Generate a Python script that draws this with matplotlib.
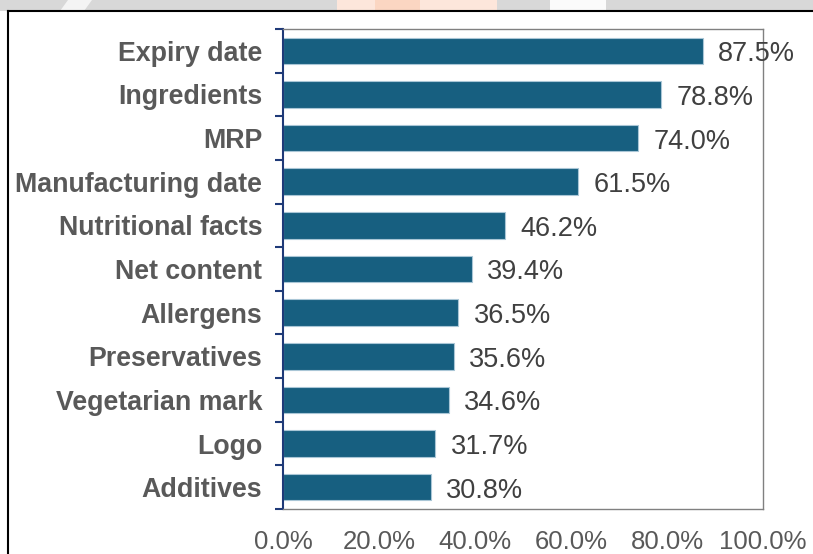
import matplotlib

matplotlib.use("Agg")
import matplotlib.pyplot as plt
from matplotlib.lines import Line2D
from matplotlib.patches import Polygon, Rectangle
from matplotlib.ticker import FixedLocator, FuncFormatter

# label information checked on packs (% of respondents)
categories = [
    "Expiry date",
    "Ingredients",
    "MRP",
    "Manufacturing date",
    "Nutritional facts",
    "Net content",
    "Allergens",
    "Preservatives",
    "Vegetarian mark",
    "Logo",
    "Additives",
]
shares = [87.5, 78.8, 74.0, 61.5, 46.2, 39.4, 36.5, 35.6, 34.6, 31.7, 30.8]
x_ticks = [0, 20, 40, 60, 80, 100]

BAR = "#175f80"
NAVY = "#1f3a78"

plt.rcParams["font.family"] = ["Liberation Sans", "DejaVu Sans"]

W, H = 813, 554
fig = plt.figure(figsize=(W / 100, H / 100), dpi=100)


def fx(x):
    return x / W


def fy(y):
    return 1 - y / H


# faded page strip above the chart box
band = 11
fig.patches.append(Rectangle((0, fy(band)), 1, band / H, transform=fig.transFigure,
                             facecolor="#d8d8d8", edgecolor="none", zorder=0))
fig.patches.append(Polygon([(fx(60), fy(band)), (fx(84), fy(band)), (fx(92), 1), (fx(68), 1)],
                           transform=fig.transFigure, facecolor="#f4f4f4",
                           edgecolor="none", zorder=0))
fig.patches.append(Rectangle((fx(337), fy(band)), fx(160), band / H, transform=fig.transFigure,
                             facecolor="#fde6db", edgecolor="none", zorder=0))
fig.patches.append(Rectangle((fx(375), fy(band)), fx(45), band / H, transform=fig.transFigure,
                             facecolor="#fbd6c2", edgecolor="none", zorder=0))
fig.patches.append(Rectangle((fx(550), fy(band)), fx(56), band / H, transform=fig.transFigure,
                             facecolor="#fbfbfb", edgecolor="none", zorder=0))

# chart box outline
fig.lines.append(Line2D([fx(8), 1], [fy(band), fy(band)], transform=fig.transFigure,
                        color="black", linewidth=1.5))
fig.lines.append(Line2D([fx(8), fx(8)], [0, fy(band)], transform=fig.transFigure,
                        color="black", linewidth=1.5))

ax = fig.add_axes([fx(283), 45 / H, fx(480), 480 / H])
n = len(categories)
pos = list(range(n))
ax.barh(pos, shares, height=0.61, color=BAR, edgecolor="#a9c6d6", linewidth=0.8, zorder=2)

for i, v in zip(pos, shares):
    ax.annotate(f"{v:.1f}%", xy=(v, i), xytext=(11, -2.5), textcoords="offset points",
                ha="left", va="center", fontsize=19.5, color="#404040", zorder=3)

ax.set_xlim(0, 100)
ax.set_ylim(n - 0.5, -0.5)

ax.set_yticks(pos)
ax.set_yticklabels(categories, fontsize=19.3, fontweight="bold", color="#595959")
ax.tick_params(axis="y", which="major", length=0, pad=15)
ax.yaxis.set_minor_locator(FixedLocator([i - 0.5 for i in range(n + 1)]))
ax.tick_params(axis="y", which="minor", length=6, width=1.5, color=NAVY, direction="out")

ax.set_xticks(x_ticks)
ax.xaxis.set_major_formatter(FuncFormatter(lambda v, _: f"{v:.1f}%"))
ax.tick_params(axis="x", length=0, pad=15, labelsize=18.5, labelcolor="#595959")

for side in ("top", "right", "bottom"):
    ax.spines[side].set_color("#808080")
    ax.spines[side].set_linewidth(1.0)
ax.spines["left"].set_color(NAVY)
ax.spines["left"].set_linewidth(1.5)

fig.savefig("out.png", dpi=100)
